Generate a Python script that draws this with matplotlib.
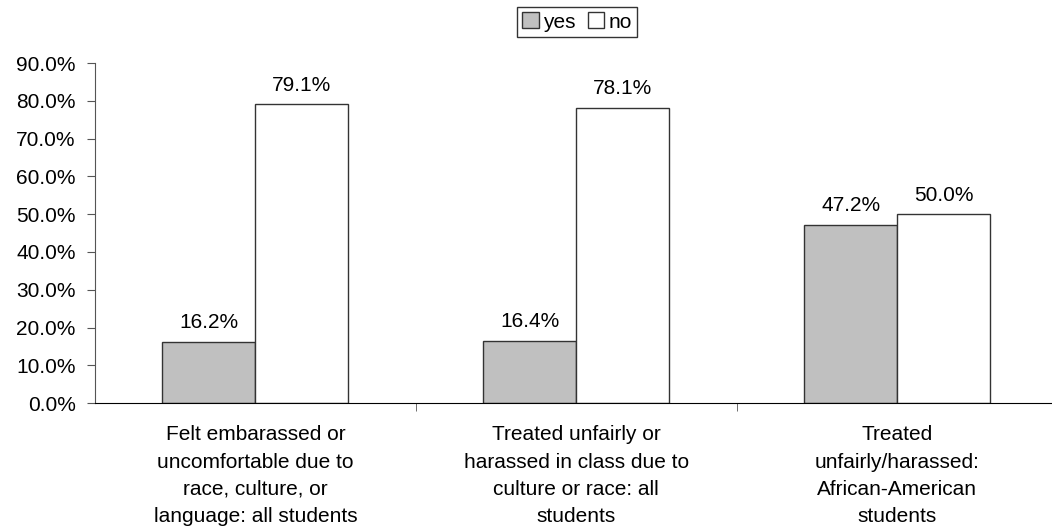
import numpy as np
import matplotlib
matplotlib.use("Agg")
import matplotlib.pyplot as plt
from matplotlib.ticker import PercentFormatter, FixedLocator

plt.rcParams["font.family"] = ["Liberation Sans", "DejaVu Sans"]

categories = [
    "Felt embarassed or\nuncomfortable due to\nrace, culture, or\nlanguage: all students",
    "Treated unfairly or\nharassed in class due to\nculture or race: all\nstudents",
    "Treated\nunfairly/harassed:\nAfrican-American\nstudents",
]
yes_vals = [16.2, 16.4, 47.2]
no_vals = [79.1, 78.1, 50.0]

fig = plt.figure(figsize=(10.52, 5.31), dpi=100)
ax = fig.add_axes([0.0903, 0.241, 0.915, 0.640])

x = np.arange(len(categories))
w = 0.29
b1 = ax.bar(x - w / 2, yes_vals, w, color="#c0c0c0", edgecolor="#333333", linewidth=1, label="yes")
b2 = ax.bar(x + w / 2, no_vals, w, color="white", edgecolor="#333333", linewidth=1, label="no")

for bars, vals in ((b1, yes_vals), (b2, no_vals)):
    for r, v in zip(bars, vals):
        ax.annotate(f"{v:.1f}%", (r.get_x() + r.get_width() / 2, r.get_height()),
                    xytext=(0, 7), textcoords="offset points", ha="center", va="bottom",
                    fontsize=15)

ax.set_xlim(-0.5, 2.5)
ax.set_ylim(0, 90)
ax.set_yticks(np.arange(0, 91, 10))
ax.yaxis.set_major_formatter(PercentFormatter(decimals=1))
ax.tick_params(axis="y", labelsize=15, length=6, color="#555555", pad=8)

ax.set_xticks(x)
ax.set_xticklabels(categories, fontsize=15, linespacing=1.55)
ax.tick_params(axis="x", which="major", length=0, pad=16)
ax.xaxis.set_minor_locator(FixedLocator([0.5, 1.5]))
ax.tick_params(axis="x", which="minor", length=6, color="#555555")

ax.spines["top"].set_visible(False)
ax.spines["right"].set_visible(False)
ax.spines["left"].set_color("#555555")
ax.spines["bottom"].set_color("black")

leg = fig.legend(loc="center", bbox_to_anchor=(577 / 1052, 1 - 22 / 531), ncol=2,
                 fontsize=15, frameon=True, fancybox=False, handlelength=0.8,
                 handleheight=0.8, handletextpad=0.2, columnspacing=0.6,
                 borderpad=0.25, borderaxespad=0)
leg.get_frame().set_edgecolor("black")
leg.get_frame().set_linewidth(1)

fig.savefig("out.png", dpi=100)
